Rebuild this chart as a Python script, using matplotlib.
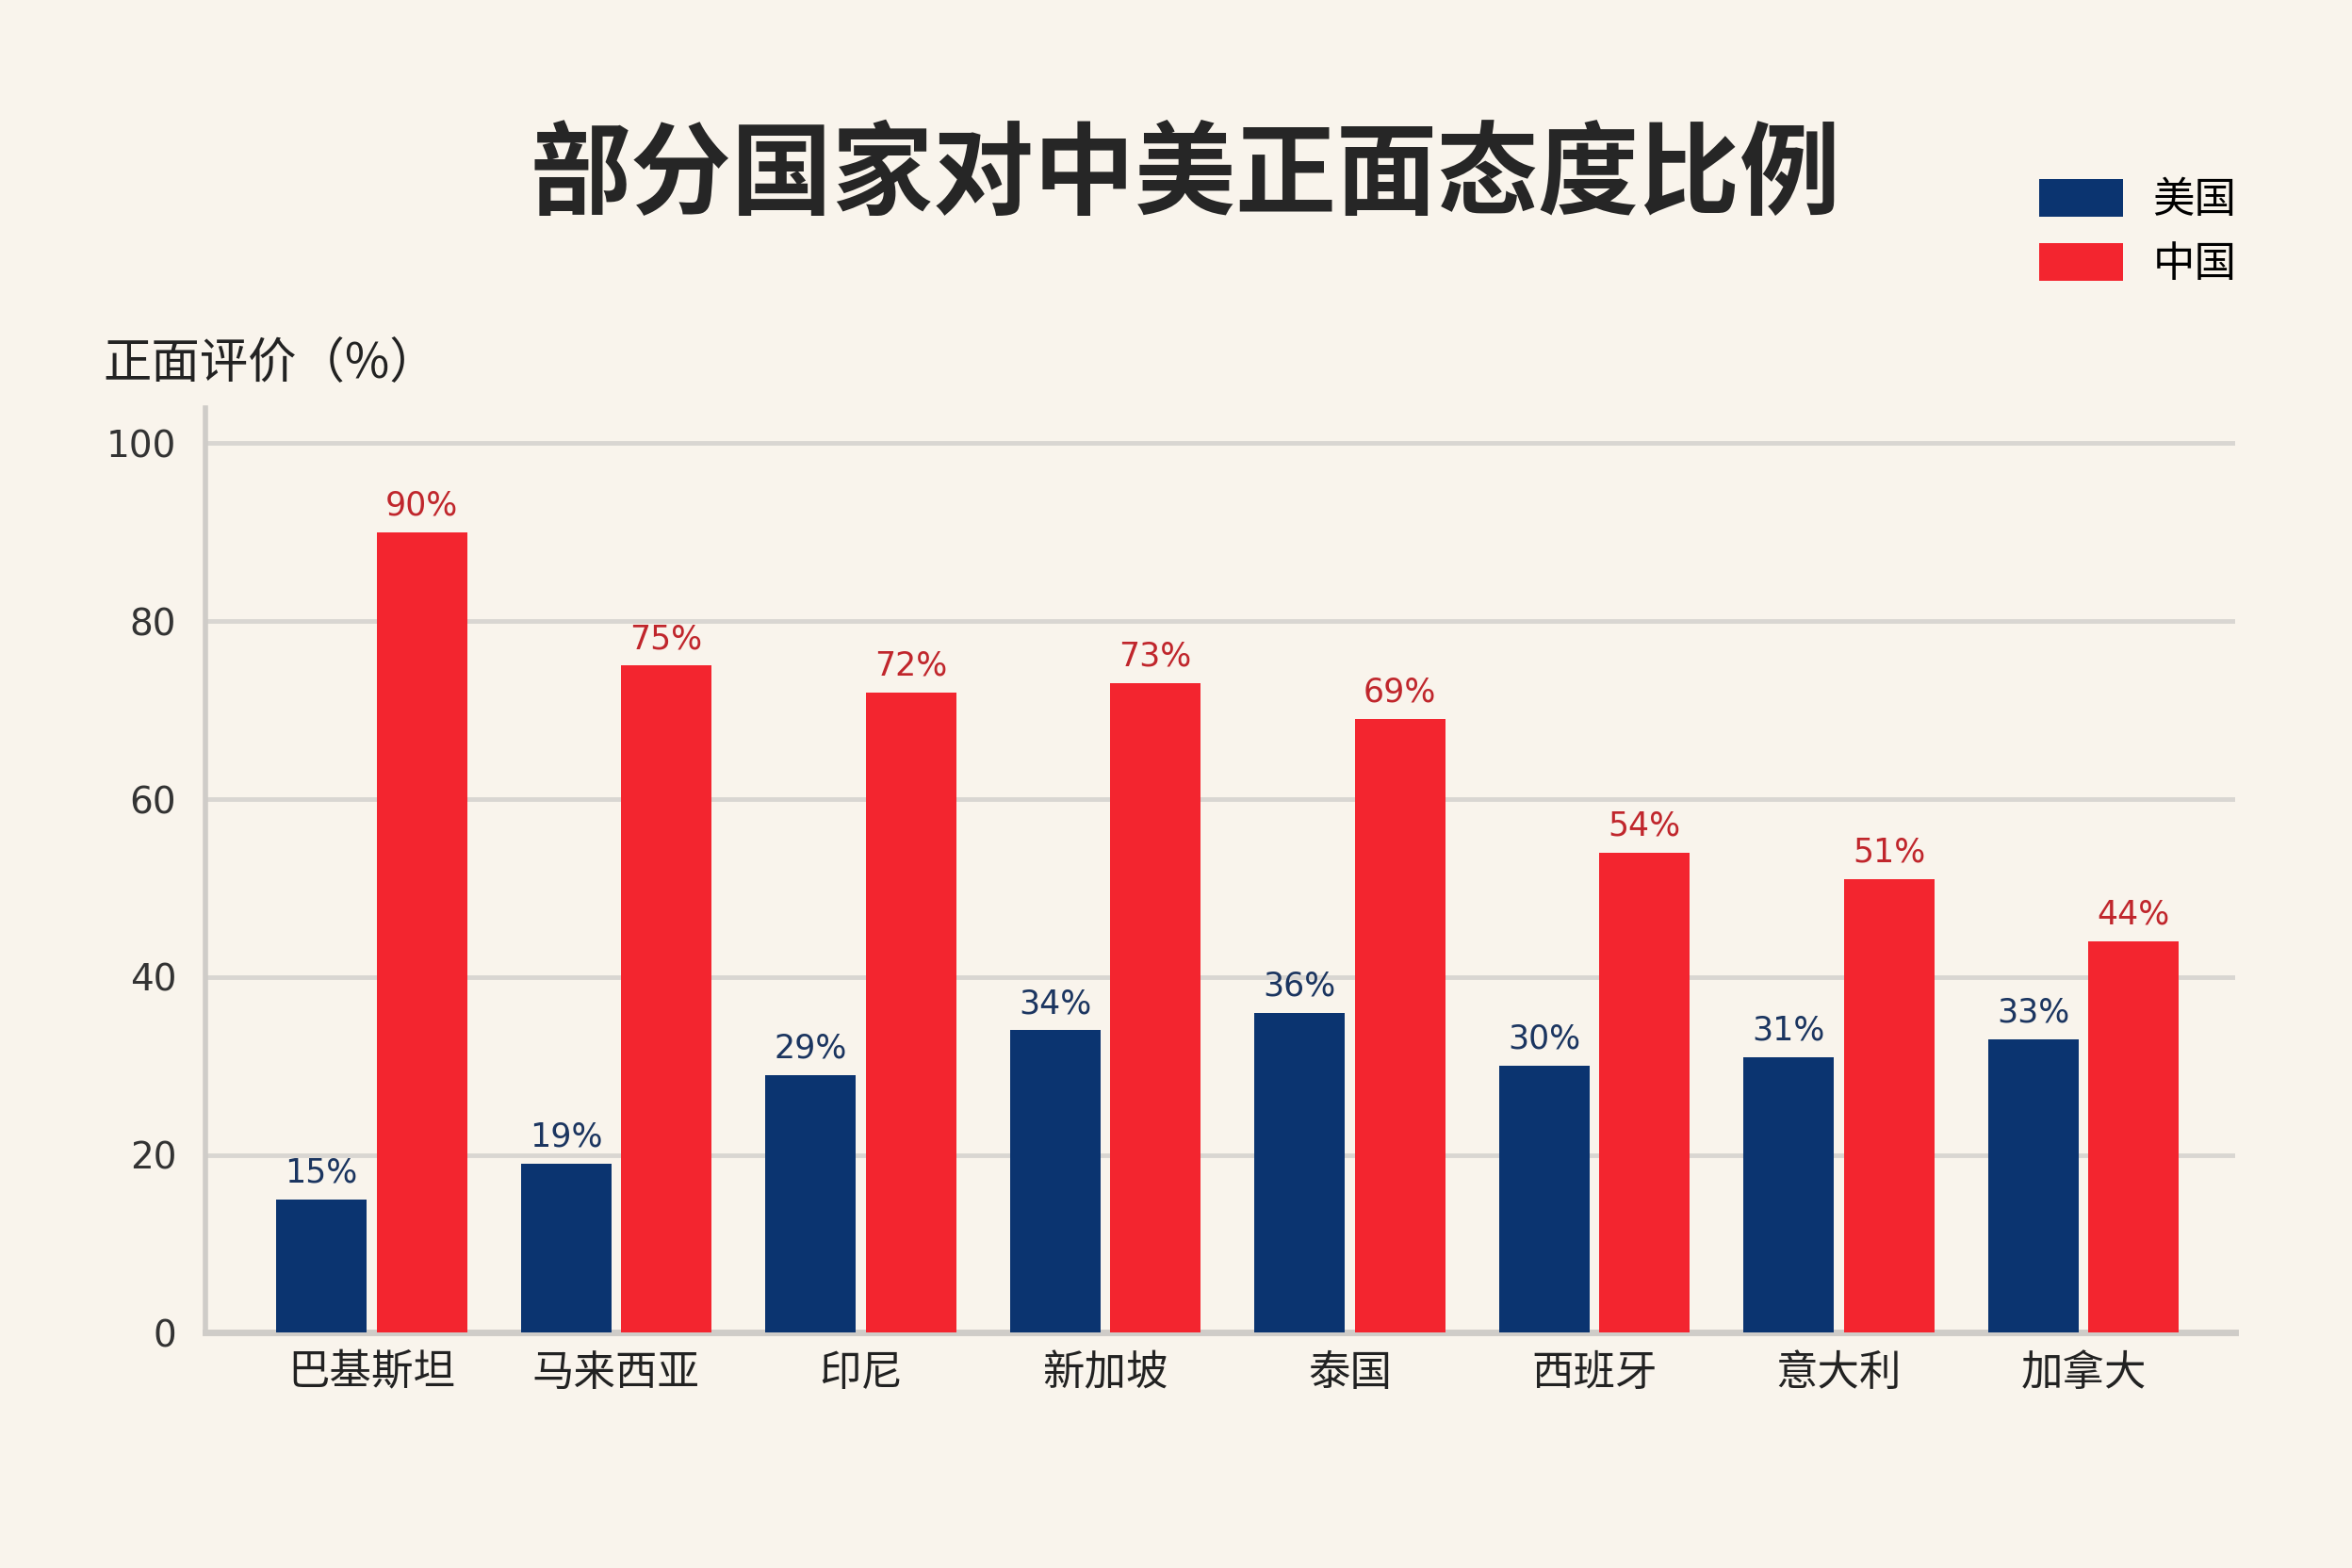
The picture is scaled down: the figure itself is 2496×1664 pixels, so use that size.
import matplotlib.pyplot as plt
import numpy as np

plt.rcParams['font.family'] = ['Noto Sans CJK SC', 'DejaVu Sans']

countries = ['巴基斯坦', '马来西亚', '印尼', '新加坡', '泰国', '西班牙', '意大利', '加拿大']
usa = [15, 19, 29, 34, 36, 30, 31, 33]
china = [90, 75, 72, 73, 69, 54, 51, 44]
yticks = [0, 20, 40, 60, 80, 100]

bg = '#f9f4ec'
navy = '#0b3470'
red = '#f3252f'

fig = plt.figure(figsize=(24.96, 16.64), dpi=100, facecolor=bg)
ax = fig.add_axes([0.0873, 0.150, 0.863, 0.590], facecolor=bg)

x = np.arange(len(countries))
w = 0.37
gap = 0.02
b1 = ax.bar(x - w / 2 - gap, usa, w, color=navy, label='美国', zorder=3)
b2 = ax.bar(x + w / 2 + gap, china, w, color=red, label='中国', zorder=3)

for rect, v in zip(b1, usa):
    ax.text(rect.get_x() + rect.get_width() / 2, v + 1.2, f'{v}%',
            ha='center', va='bottom', fontsize=25, color='#1b3560',
            family='DejaVu Sans')
for rect, v in zip(b2, china):
    ax.text(rect.get_x() + rect.get_width() / 2, v + 1.2, f'{v}%',
            ha='center', va='bottom', fontsize=25, color='#c0262c',
            family='DejaVu Sans')

ax.set_xlim(-0.68, 7.62)
ax.set_ylim(0, 104)
ax.set_yticks(yticks)
ax.set_yticklabels([str(t) for t in yticks], fontsize=28, color='#333333',
                   family='DejaVu Sans')
ax.set_xticks(x)
ax.set_xticklabels(countries, fontsize=32, color='#222222')
ax.tick_params(axis='both', length=0, pad=14)
ax.tick_params(axis='y', pad=22)

ax.grid(axis='y', color='#d9d6d2', linewidth=3.5, zorder=0)
for s in ['top', 'right']:
    ax.spines[s].set_visible(False)
ax.spines['left'].set_color('#cfccc8')
ax.spines['left'].set_linewidth(4)
ax.spines['bottom'].set_color('#cfccc8')
ax.spines['bottom'].set_linewidth(5)

fig.text(0.504, 0.887, '部分国家对中美正面态度比例', ha='center', va='center',
         fontsize=77, fontweight='bold', color='#262626')
fig.text(0.044, 0.768, '正面评价（%）', ha='left', va='center',
         fontsize=37, color='#222222')

fig.legend(handles=[b1, b2], loc='upper left', bbox_to_anchor=(0.860, 0.897),
           frameon=False, fontsize=32, handlelength=2.0, handleheight=1.0,
           labelspacing=0.5, handletextpad=0.7, borderaxespad=0)

fig.savefig('out.png', dpi=100, facecolor=bg)
